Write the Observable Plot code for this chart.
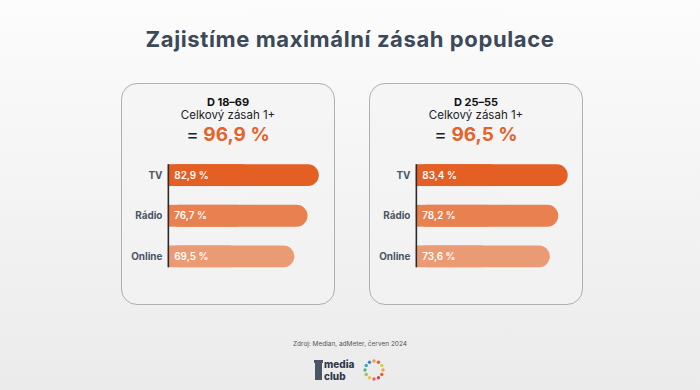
<!DOCTYPE html>
<html>
<head>
<meta charset="utf-8">
<script src="https://cdn.jsdelivr.net/npm/d3@7"></script>
<script src="https://cdn.jsdelivr.net/npm/@observablehq/plot@0.6"></script>
<style>
  html, body { margin: 0; padding: 0; }
  body {
    width: 700px; height: 390px; position: relative; overflow: hidden;
    background: linear-gradient(to bottom, #fcfcfc 0%, #ebebeb 100%);
    font-family: Inter, "Open Sans", sans-serif;
  }
  .title {
    position: absolute; left: 0; width: 700px; top: 27.5px; text-align: center;
    font-size: 22px; line-height: 22px; font-weight: 700; color: #3b4958; letter-spacing: 0.6px;
  }
  .card {
    position: absolute; top: 83px; height: 222px; width: 214px;
    border: 1px solid #aeb0b4; border-radius: 16px; box-sizing: border-box;
    background: rgba(244,244,245,0.6);
  }
  .card .h { position: absolute; left: 0; width: 100%; text-align: center; white-space: nowrap; }
  .card .g { top: 12.5px; font-size: 11px; line-height: 11px; font-weight: 700; color: #111; }
  .card .s { top: 26px; font-size: 11.5px; line-height: 11.5px; color: #222; }
  .card .t { top: 41px; font-size: 19px; line-height: 19px; font-weight: 700; color: #e3632a; }
  .card .t .eq { color: #222; font-weight: 400; }
  .card svg { position: absolute; left: -1px; top: -1px; overflow: visible; }
  .source {
    position: absolute; left: 0; width: 700px; top: 341px; text-align: center;
    font-size: 6.5px; line-height: 7px; color: #555;
  }
  .logo { position: absolute; left: 312px; top: 358px; }
  .logo .txt { position: absolute; left: 12px; font-size: 10px; line-height: 10px; font-weight: 800; color: #2f3a4a; }
</style>
</head>
<body>
<div class="title">Zajistíme maximální zásah populace</div>
<div id="cards"></div>
<div class="source">Zdroj: Median, adMeter, červen 2024</div>
<div class="logo">
  <svg width="10" height="22" style="position:absolute;left:2px;top:2px"><rect x="1" y="2" width="7" height="18" fill="#4a5565"/><rect x="0" y="0" width="9" height="3" fill="#4a5565"/></svg>
  <div class="txt" style="top:0.5px">media</div>
  <div class="txt" style="top:12.5px">club</div>
  <svg id="ring" width="26" height="26" style="position:absolute;left:49px;top:-1px"></svg>
</div>
<script>
// ---- data ----
const groups = ["D 18–69", "D 25–55"];
const totalReach = [96.9, 96.5];
const media = ["TV", "Rádio", "Online"];
const reachD1869 = [82.9, 76.7, 69.5];
const reachD2555 = [83.4, 78.2, 73.6];
const mediaColors = ["#e35f24", "#e8804f", "#eb9b74"];

const series = [reachD1869, reachD2555];
const cardLefts = [121, 369];
const fmt = v => v.toFixed(1).replace(".", ",") + " %";

const cards = document.getElementById("cards");
groups.forEach((g, gi) => {
  const card = document.createElement("div");
  card.className = "card";
  card.style.left = cardLefts[gi] + "px";
  card.innerHTML = `<div class="h g">${g}</div><div class="h s">Celkový zásah 1+</div>` +
    `<div class="h t"><span class="eq">=</span> ${fmt(totalReach[gi])}</div>`;
  const data = media.map((m, i) => ({cat: m, value: series[gi][i], color: mediaColors[i]}));
  const plot = Plot.plot({
    width: 214, height: 222,
    marginLeft: 0, marginRight: 0, marginTop: 0, marginBottom: 0,
    x: {domain: [0, 100], range: [47.3, 231.1], axis: null},
    y: {type: "band", domain: media, range: [62.2, 205.2], padding: 0.467, axis: null},
    style: {background: "transparent", fontFamily: "Inter, sans-serif"},
    marks: [
      Plot.barX(data, {x: "value", y: "cat", fill: "color", rx: 11}),
      Plot.barX(data, {x1: 0, x2: d => d.value / 2, y: "cat", fill: "color"}),
      Plot.ruleX([0], {y1: [media[0]], y2: [media[media.length - 1]], stroke: "#2a2a2a", strokeWidth: 1.6}),
      Plot.text(data, {x: 0, y: "cat", text: "cat", textAnchor: "end", dx: -6, fontSize: 10, fontWeight: 700, fill: "#4a5565"}),
      Plot.text(data, {x: 0, y: "cat", text: d => fmt(d.value), textAnchor: "start", dx: 6, fontSize: 10, fontWeight: 600, fill: "#ffffff"})
    ]
  });
  card.appendChild(plot);
  cards.appendChild(card);
});

// decorative logo ring
const ring = document.getElementById("ring");
const ringColors = ["#f2a33a","#e8603a","#d9453d","#e35f8a","#f0c33c","#9bc74a","#4fb88a","#3aa7c4","#4a7fc4","#f29a3a","#e8603a","#c9d64a"];
ringColors.forEach((c, i) => {
  const a = i / ringColors.length * 2 * Math.PI;
  const el = document.createElementNS("http://www.w3.org/2000/svg", "circle");
  el.setAttribute("cx", 13 + 9 * Math.cos(a));
  el.setAttribute("cy", 13 + 9 * Math.sin(a));
  el.setAttribute("r", 1.7);
  el.setAttribute("fill", c);
  ring.appendChild(el);
});
</script>
</body>
</html>
